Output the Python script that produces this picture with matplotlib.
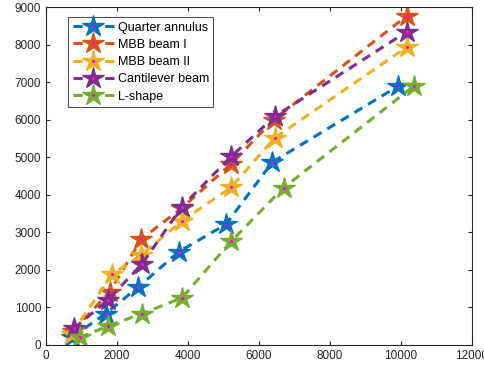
import matplotlib
matplotlib.use("Agg")
import matplotlib.pyplot as plt

plt.rcParams["font.family"] = ["Liberation Sans", "DejaVu Sans"]

# data
names = ["Quarter annulus", "MBB beam I", "MBB beam II", "Cantilever beam", "L-shape"]
colors = ["#0072BD", "#D95319", "#EDB120", "#7E2F8E", "#77AC30"]

x_quarter = [720, 1680, 2590, 3740, 5070, 6380, 9920]
y_quarter = [200, 830, 1530, 2480, 3210, 4870, 6890]

x_mbb1 = [760, 1790, 2690, 3820, 5220, 6420, 10160]
y_mbb1 = [360, 1410, 2820, 3640, 4820, 6000, 8760]

x_mbb2 = [720, 1870, 2680, 3830, 5220, 6440, 10160]
y_mbb2 = [300, 1880, 2390, 3300, 4200, 5510, 7930]

x_canti = [790, 1750, 2700, 3830, 5220, 6450, 10160]
y_canti = [440, 1200, 2150, 3680, 5020, 6090, 8340]

x_lshape = [950, 1750, 2700, 3830, 5220, 6700, 10360]
y_lshape = [200, 500, 830, 1250, 2760, 4190, 6890]

series = [
    (x_quarter, y_quarter),
    (x_mbb1, y_mbb1),
    (x_mbb2, y_mbb2),
    (x_canti, y_canti),
    (x_lshape, y_lshape),
]

fig = plt.figure(figsize=(4.84, 3.70), dpi=100)
ax = fig.add_axes([0.095, 0.068, 0.88, 0.913])

handles = []
for (xs, ys), name, col in zip(series, names, colors):
    ln, = ax.plot(xs, ys, "--", color=col, lw=2.2, marker="*", ms=16,
                  dashes=(3, 2.2), label=name)
    dot, = ax.plot(xs, ys, ls="none", marker=".", ms=2.5, color="magenta")
    handles.append((ln, dot))

ax.set_xlim(0, 12000)
ax.set_ylim(0, 9000)
ax.set_xticks(range(0, 12001, 2000))
ax.set_yticks(range(0, 9001, 1000))
ax.tick_params(direction="in", top=True, right=True, labelsize=8.5,
               colors="#262626", length=3)
for s in ax.spines.values():
    s.set_color("#262626")
    s.set_linewidth(0.8)

leg = ax.legend(handles, names, loc="upper left", bbox_to_anchor=(0.052, 0.97),
                fontsize=9, frameon=True, fancybox=False, handlelength=3.3,
                borderpad=0.35, labelspacing=0.42, handletextpad=0.3,
                borderaxespad=0)
leg.get_frame().set_edgecolor("#262626")
leg.get_frame().set_linewidth(0.8)

fig.savefig("out.png", dpi=100)
